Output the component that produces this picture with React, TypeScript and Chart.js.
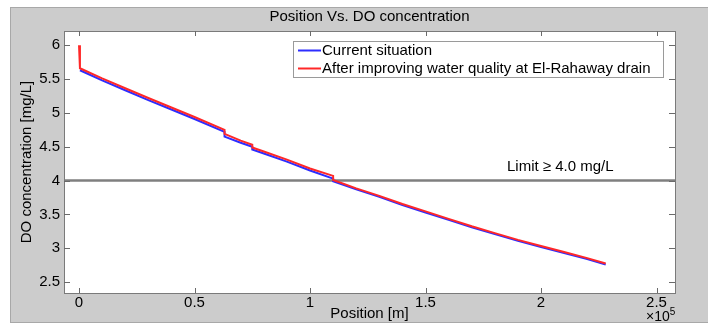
import React, { useEffect, useRef } from "react";
import { Chart, registerables } from "chart.js";

Chart.register(...registerables);

const TITLE = "Position Vs. DO concentration";
const X_LABEL = "Position [m]";
const Y_LABEL = "DO concentration [mg/L]";
const LIMIT_LABEL = "Limit \u2265 4.0 mg/L";
const SERIES_NAMES = ["Current situation", "After improving water quality at El-Rahaway drain"];

const X_TICKS = [0, 50000, 100000, 150000, 200000, 250000];
const Y_TICKS = [2.5, 3, 3.5, 4, 4.5, 5, 5.5, 6];
const X_MIN = -6500;
const X_MAX = 258000;
const Y_MIN = 2.34;
const Y_MAX = 6.21;
const LIMIT = 4.0;

const CURRENT_X = [400, 10000, 20000, 30000, 40000, 50000, 63000, 63000, 70000, 75000, 75000, 80000, 90000, 100000, 110000, 110000, 120000, 130000, 140000, 150000, 160000, 170000, 180000, 190000, 200000, 210000, 220000, 228000];
const CURRENT_Y = [5.63, 5.48, 5.335, 5.19, 5.05, 4.91, 4.72, 4.65, 4.56, 4.5, 4.46, 4.4, 4.28, 4.15, 4.03, 3.99, 3.87, 3.76, 3.64, 3.53, 3.42, 3.31, 3.21, 3.11, 3.02, 2.93, 2.84, 2.76];

const IMPROVED_X = [0, 400, 400, 10000, 20000, 30000, 40000, 50000, 63000, 63000, 70000, 75000, 75000, 80000, 90000, 100000, 110000, 110000, 120000, 130000, 140000, 150000, 160000, 170000, 180000, 190000, 200000, 210000, 220000, 228000];
const IMPROVED_Y = [6.0, 5.99, 5.66, 5.51, 5.365, 5.22, 5.08, 4.94, 4.75, 4.69, 4.59, 4.53, 4.49, 4.43, 4.31, 4.18, 4.07, 4.01, 3.885, 3.775, 3.655, 3.545, 3.435, 3.325, 3.225, 3.125, 3.035, 2.945, 2.855, 2.775];

const FONT = "'Liberation Sans', Arial, Helvetica, sans-serif";
const FS = 15;
const BLUE = "rgb(45,45,255)";
const RED = "rgb(255,40,40)";

const decorPlugin = {
  id: "decor",
  beforeDraw(chart: any) {
    const { ctx, chartArea: a } = chart;
    ctx.save();
    ctx.fillStyle = "#ffffff";
    ctx.fillRect(0, 0, chart.width, chart.height);
    ctx.fillStyle = "#cccccc";
    ctx.fillRect(10, 7, chart.width - 10, 316);
    ctx.strokeStyle = "#a8a8a8";
    ctx.lineWidth = 1;
    ctx.strokeRect(10.5, 7.5, chart.width, 315);
    ctx.fillStyle = "#ffffff";
    ctx.fillRect(a.left, a.top, a.right - a.left, a.bottom - a.top);
    ctx.restore();
  },
  afterDraw(chart: any) {
    const { ctx, chartArea: a, scales } = chart;
    const xs = scales.x;
    const ys = scales.y;
    ctx.save();
    ctx.strokeStyle = "#7a7a7a";
    ctx.lineWidth = 1;
    ctx.strokeRect(Math.round(a.left) + 0.5, Math.round(a.top) + 0.5, Math.round(a.right - a.left), Math.round(a.bottom - a.top));
    ctx.strokeStyle = "#6a6a6a";
    ctx.beginPath();
    for (const v of X_TICKS) {
      const px = Math.round(xs.getPixelForValue(v)) + 0.5;
      ctx.moveTo(px, a.bottom);
      ctx.lineTo(px, a.bottom - 5);
      ctx.moveTo(px, a.top);
      ctx.lineTo(px, a.top + 5);
    }
    for (const v of Y_TICKS) {
      const py = Math.round(ys.getPixelForValue(v)) + 0.5;
      ctx.moveTo(a.left, py);
      ctx.lineTo(a.left + 6, py);
      ctx.moveTo(a.right, py);
      ctx.lineTo(a.right - 6, py);
    }
    ctx.stroke();

    ctx.fillStyle = "#000";
    ctx.font = `${FS}px ${FONT}`;
    ctx.textBaseline = "middle";
    ctx.textAlign = "left";
    ctx.fillText(LIMIT_LABEL, 507, ys.getPixelForValue(LIMIT) - 14);

    const lx = 293.5, ly = 41.5, lw = 370, lh = 36;
    ctx.fillStyle = "#ffffff";
    ctx.fillRect(lx, ly, lw, lh);
    ctx.strokeStyle = "#9a9a9a";
    ctx.strokeRect(lx, ly, lw, lh);
    const colors = [BLUE, RED];
    const rows = [50.5, 68.5];
    for (let i = 0; i < 2; i++) {
      ctx.strokeStyle = colors[i];
      ctx.lineWidth = 2;
      ctx.beginPath();
      ctx.moveTo(298, rows[i]);
      ctx.lineTo(321, rows[i]);
      ctx.stroke();
      ctx.fillStyle = "#000";
      ctx.fillText(SERIES_NAMES[i], 322, rows[i]);
    }

    ctx.font = `14px ${FONT}`;
    ctx.fillText("\u00d710", 646, 317);
    const w = ctx.measureText("\u00d710").width;
    ctx.font = `10px ${FONT}`;
    ctx.fillText("5", 646 + w, 312);
    ctx.restore();
  },
};

export default function App() {
  const ref = useRef<HTMLCanvasElement | null>(null);
  useEffect(() => {
    if (!ref.current) return;
    const chart = new Chart(ref.current, {
      type: "scatter",
      data: {
        datasets: [
          {
            label: SERIES_NAMES[0],
            data: CURRENT_X.map((x, i) => ({ x, y: CURRENT_Y[i] })),
            showLine: true,
            borderColor: BLUE,
            backgroundColor: BLUE,
            borderWidth: 2,
            pointRadius: 0,
            order: 1,
          },
          {
            label: SERIES_NAMES[1],
            data: IMPROVED_X.map((x, i) => ({ x, y: IMPROVED_Y[i] })),
            showLine: true,
            borderColor: RED,
            backgroundColor: RED,
            borderWidth: 2,
            pointRadius: 0,
            order: 0,
          },
          {
            label: "Limit",
            data: [
              { x: X_MIN, y: LIMIT },
              { x: X_MAX, y: LIMIT },
            ],
            showLine: true,
            borderColor: "#7f7f7f",
            borderWidth: 2.5,
            pointRadius: 0,
            order: 2,
          },
        ],
      },
      options: {
        animation: false,
        responsive: false,
        devicePixelRatio: 1,
        layout: { padding: { left: 0, right: 33, top: 0, bottom: 0 } },
        plugins: {
          legend: { display: false },
          tooltip: { enabled: false },
          title: {
            display: true,
            text: TITLE,
            fullSize: false,
            color: "#000",
            font: { family: FONT, size: FS, weight: "normal", lineHeight: 1.2 },
            padding: { top: 8, bottom: 5 },
          },
        },
        scales: {
          x: {
            type: "linear",
            min: X_MIN,
            max: X_MAX,
            position: "bottom",
            grid: { display: false, drawTicks: false },
            border: { display: false },
            afterBuildTicks: (s: any) => {
              s.ticks = X_TICKS.map((value) => ({ value }));
            },
            afterFit: (s: any) => {
              s.height = 33;
            },
            ticks: {
              autoSkip: false,
              maxRotation: 0,
              padding: 1,
              color: "#000",
              font: { family: FONT, size: FS },
              callback: (v: any) => String(Number(v) / 100000),
            },
            title: {
              display: true,
              text: X_LABEL,
              color: "#000",
              font: { family: FONT, size: FS },
              padding: { top: 0, bottom: 3 },
            },
          },
          y: {
            type: "linear",
            min: Y_MIN,
            max: Y_MAX,
            grid: { display: false, drawTicks: false },
            border: { display: false },
            afterBuildTicks: (s: any) => {
              s.ticks = Y_TICKS.map((value) => ({ value }));
            },
            afterFit: (s: any) => {
              s.width = 64;
            },
            ticks: {
              autoSkip: false,
              padding: 4,
              color: "#000",
              font: { family: FONT, size: FS },
              callback: (v: any) => String(v),
            },
            title: {
              display: true,
              text: Y_LABEL,
              color: "#000",
              font: { family: FONT, size: FS },
              padding: { top: 18, bottom: 0 },
            },
          },
        },
      },
      plugins: [decorPlugin],
    });
    return () => chart.destroy();
  }, []);
  return (
    <div style={{ position: "absolute", left: 0, top: 0, width: 708, height: 326 }}>
      <canvas ref={ref} width={708} height={326} style={{ display: "block" }} />
    </div>
  );
}
